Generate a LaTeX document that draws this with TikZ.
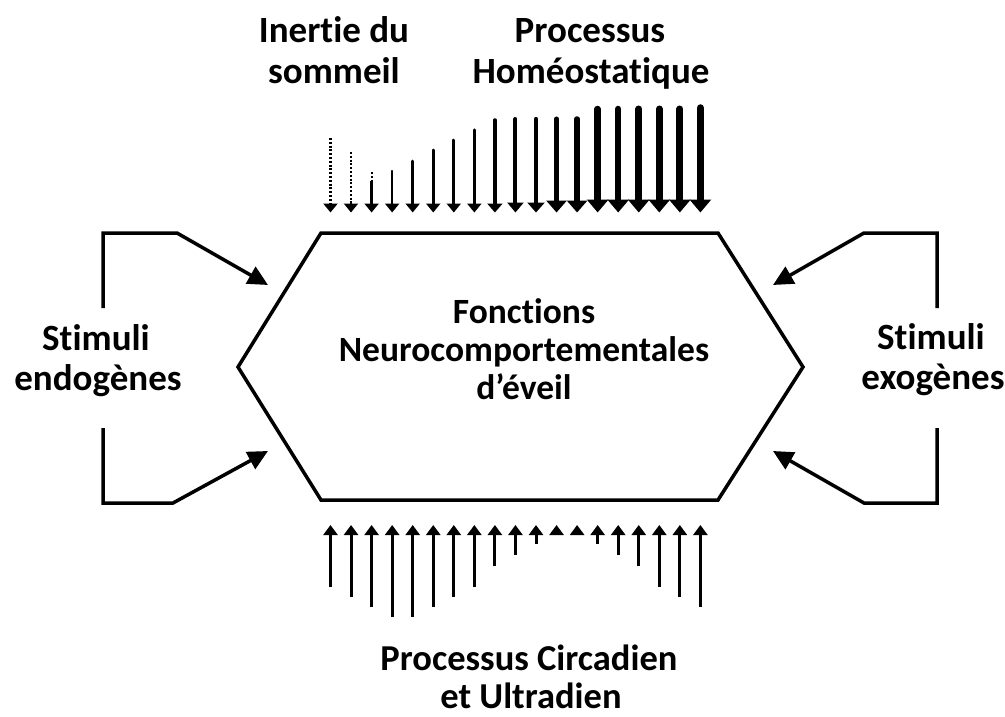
\documentclass[tikz,border=0pt]{standalone}
\usepackage{fontspec}
\setmainfont{Carlito}[Ligatures=NoCommon]
\usetikzlibrary{arrows.meta,calc}
\begin{document}
\begin{tikzpicture}[x=1pt,y=-1pt,
  lbl/.style={font=\bfseries\fontsize{36}{40}\selectfont, anchor=base, inner sep=0pt, text=black},
  toplbl/.style={lbl, font=\bfseries\fontsize{37}{40}\selectfont},
  ctrlbl/.style={lbl, font=\bfseries\fontsize{35.5}{40}\selectfont},
  sidelbl/.style={lbl, font=\bfseries\fontsize{37}{40}\selectfont},
  botlbl/.style={lbl, font=\bfseries\fontsize{36.5}{40}\selectfont},
  hexline/.style={line width=3.5pt, line join=miter},
  brk/.style={line width=3.5pt, line join=miter, -{Triangle[width=19pt,length=20pt]}},
  uparr/.style={line width=3pt, -{Triangle[width=14pt,length=10pt]}},
  downarr/.style={line cap=round},
  dotline/.style={line width=2.2pt, dash pattern=on 2pt off 1.8pt},
]
\useasboundingbox (0,0) rectangle (1005,717);
\fill[white] (0,0) rectangle (1005,717);

% hexagon
\coordinate (hTL) at (321,233);
\coordinate (hTR) at (718,233);
\coordinate (hR)  at (803,367);
\coordinate (hBR) at (718,500);
\coordinate (hBL) at (321,500);
\coordinate (hL)  at (238,367);
\draw[hexline] (hTL) -- (hTR) -- (hR) -- (hBR) -- (hBL) -- (hL) -- cycle;

% centre text
\node[ctrlbl] (c1) at (524,323) {Fonctions};
\node[ctrlbl] (c2) at (524,361) {Neurocomportementales};
\node[ctrlbl] (c3) at (524,399) {d’éveil};

% brackets left
\coordinate (la1) at (103,308); \coordinate (la2) at (103,233);
\coordinate (la3) at (177,233); \coordinate (la4) at (268,285);
\draw[brk] (la1) -- (la2) -- (la3) -- (la4);
\coordinate (lb1) at (103,428); \coordinate (lb2) at (103,503);
\coordinate (lb3) at (173,503); \coordinate (lb4) at (268,451);
\draw[brk] (lb1) -- (lb2) -- (lb3) -- (lb4);
% brackets right
\coordinate (ra1) at (937,308); \coordinate (ra2) at (937,233);
\coordinate (ra3) at (864,233); \coordinate (ra4) at (773,285);
\draw[brk] (ra1) -- (ra2) -- (ra3) -- (ra4);
\coordinate (rb1) at (937,428); \coordinate (rb2) at (937,503);
\coordinate (rb3) at (864,503); \coordinate (rb4) at (773,451);
\draw[brk] (rb1) -- (rb2) -- (rb3) -- (rb4);

% side labels
\node[sidelbl] (sl1) at (96,350) {Stimuli};
\node[sidelbl] (sl2) at (98,390) {endogènes};
\node[sidelbl] (sr1) at (931,349) {Stimuli};
\node[sidelbl] (sr2) at (933,389) {exogènes};

% top labels
\node[toplbl] (in1) at (334,43) {Inertie du};
\node[toplbl] (in2) at (334,84) {sommeil};
\node[toplbl] (ph1) at (590,43) {Processus};
\node[toplbl] (ph2) at (591,84) {Homéostatique};

% bottom labels
\node[botlbl] (pc1) at (529,670) {Processus Circadien};
\node[botlbl] (pc2) at (531,708) {et Ultradien};

% top arrows: dotted ones
\coordinate (t1s) at (330.5,138); \coordinate (t1e) at (330.5,212.5);
\coordinate (t1h) at (330.5,203.5);
\draw[dotline] (t1s) -- (t1h);
\draw[line width=2.2pt, -{Triangle[width=14pt,length=9pt]}] ($(t1h)+(0,-0.5)$) -- (t1e);
\coordinate (t2s) at (351,152); \coordinate (t2e) at (351,212.5);
\coordinate (t2h) at (351,203.5);
\draw[dotline] (t2s) -- (t2h);
\draw[line width=2.2pt, -{Triangle[width=14pt,length=9pt]}] ($(t2h)+(0,-0.5)$) -- (t2e);
\coordinate (t3s) at (371.6,172); \coordinate (t3m) at (371.6,181); \coordinate (t3e) at (371.6,212.5);
\draw[dotline] (t3s) -- (t3m);
\draw[line width=2.4pt, -{Triangle[width=14pt,length=9pt]}] (t3m) -- (t3e);

% top arrows: solid ones  i/ytop/lw/headwidth/headlength
\foreach \i/\yt/\lw/\hw/\hl in {4/171/2.5/14/9, 5/161/2.8/14/9, 6/150/3/14/9, 7/140/3/14/9,
  8/130/3.2/14/9, 9/120/3.5/15/9, 10/119/4/16/10, 11/119/4.2/17/10, 12/119/5/20/12,
  13/119/5.5/20/12, 14/109/6.5/21/13, 15/109/6.5/21/13, 16/109/7/21/13, 17/109/7/21/13,
  18/109/7/21/13, 19/108/7.5/21/13} {
  \pgfmathsetmacro{\xx}{330.5+20.55*(\i-1)}
  \coordinate (t\i s) at (\xx,\yt);
  \coordinate (t\i e) at (\xx,212.5);
  \draw[downarr, line width=\lw pt, -{Triangle[width=\hw pt,length=\hl pt]}] (t\i s) -- (t\i e);
}

% bottom arrows i/ybottom
\foreach \i/\yb in {1/587, 2/597, 3/607, 4/617, 5/617, 6/607, 7/597, 8/587, 9/566, 10/555,
  11/544, 12/535, 13/535, 14/544, 15/555, 16/566, 17/587, 18/597, 19/607} {
  \pgfmathsetmacro{\xx}{330.5+20.55*(\i-1)}
  \coordinate (b\i s) at (\xx,\yb);
  \coordinate (b\i e) at (\xx,525);
  \draw[uparr] (b\i s) -- (b\i e);
}
\end{tikzpicture}
\end{document}
